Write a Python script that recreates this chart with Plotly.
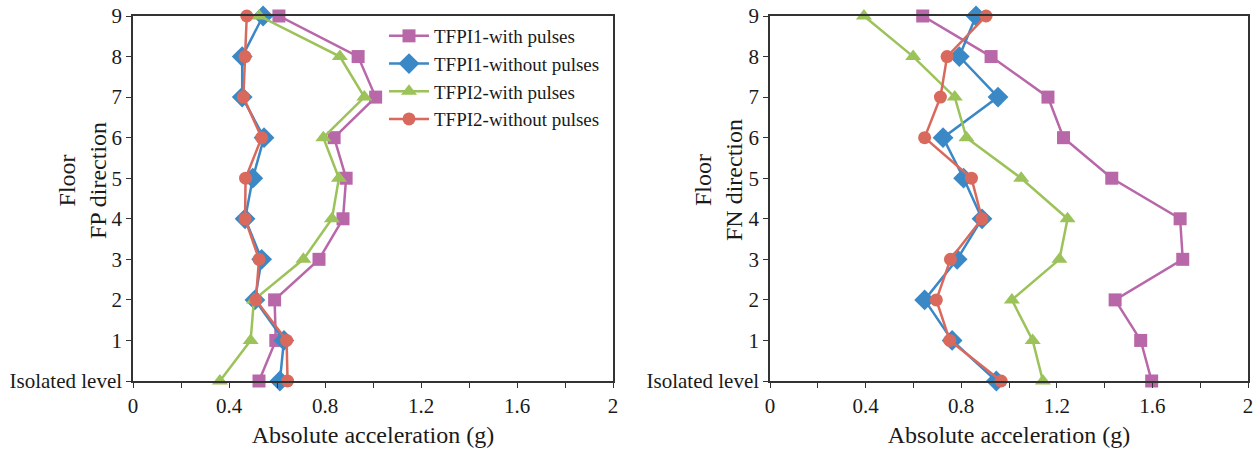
import plotly.graph_objects as go
from plotly.subplots import make_subplots

# Floor levels (0 = isolated level)
levels = [0, 1, 2, 3, 4, 5, 6, 7, 8, 9]
level_labels = ["Isolated level", "1", "2", "3", "4", "5", "6", "7", "8", "9"]

# Peak absolute floor accelerations (g), FP direction
fp_tfpi1_with = [0.525, 0.595, 0.59, 0.775, 0.875, 0.888, 0.838, 1.011, 0.938, 0.608]
fp_tfpi1_without = [0.612, 0.629, 0.508, 0.536, 0.467, 0.499, 0.546, 0.455, 0.455, 0.542]
fp_tfpi2_with = [0.362, 0.49, 0.504, 0.71, 0.829, 0.858, 0.793, 0.964, 0.862, 0.526]
fp_tfpi2_without = [0.644, 0.64, 0.512, 0.525, 0.467, 0.469, 0.536, 0.46, 0.467, 0.474]

# Peak absolute floor accelerations (g), FN direction
fn_tfpi1_with = [1.597, 1.551, 1.444, 1.727, 1.716, 1.43, 1.228, 1.163, 0.925, 0.639]
fn_tfpi1_without = [0.947, 0.762, 0.647, 0.783, 0.887, 0.81, 0.724, 0.954, 0.792, 0.862]
fn_tfpi2_with = [1.142, 1.099, 1.012, 1.211, 1.245, 1.051, 0.822, 0.773, 0.599, 0.393]
fn_tfpi2_without = [0.967, 0.752, 0.696, 0.755, 0.887, 0.843, 0.647, 0.713, 0.741, 0.904]

series_names = ["TFPI1-with pulses", "TFPI1-without pulses", "TFPI2-with pulses", "TFPI2-without pulses"]
colors = ["#B867A8", "#3B88C6", "#9CC25A", "#D9695C"]
symbols = ["square", "diamond", "triangle-up", "circle"]
msizes = [13, 16, 14, 13]

FONT = "Liberation Serif"
TEXT = "#1a1a1a"

fig = make_subplots(rows=1, cols=2)

fp_data = [fp_tfpi1_with, fp_tfpi1_without, fp_tfpi2_with, fp_tfpi2_without]
fn_data = [fn_tfpi1_with, fn_tfpi1_without, fn_tfpi2_with, fn_tfpi2_without]

for col, data in ((1, fp_data), (2, fn_data)):
    for i, vals in enumerate(data):
        fig.add_trace(
            go.Scatter(
                x=vals, y=levels, mode="lines+markers",
                name=series_names[i],
                line=dict(color=colors[i], width=2.5),
                marker=dict(symbol=symbols[i], size=msizes[i], color=colors[i]),
                cliponaxis=False,
                showlegend=(col == 1),
            ),
            row=1, col=col,
        )

axis_common = dict(
    showline=True, mirror=True, linecolor="#333333", linewidth=1.5,
    ticks="outside", ticklen=5, tickcolor="#333333", tickwidth=1.2,
    showgrid=False, zeroline=False, automargin=False,
    tickfont=dict(family=FONT, size=21, color=TEXT),
)

xaxis_cfg = dict(
    axis_common, range=[0, 2], tickmode="array",
    tickvals=[0, 0.4, 0.8, 1.2, 1.6, 2], ticktext=["0", "0.4", "0.8", "1.2", "1.6", "2"],
    minor=dict(tickmode="array", tickvals=[0.2, 0.6, 1.0, 1.4, 1.8], ticks="outside",
               ticklen=5, tickcolor="#333333", tickwidth=1.2),
    title=dict(text="Absolute acceleration (g)", font=dict(family=FONT, size=24, color=TEXT),
               standoff=9),
)
yaxis_cfg = dict(
    axis_common, range=[0, 9], tickmode="array", tickvals=levels, ticktext=level_labels,
)

fig.update_xaxes(xaxis_cfg)
fig.update_yaxes(yaxis_cfg)
fig.update_layout(
    xaxis=dict(domain=[133 / 1257, 613 / 1257]),
    xaxis2=dict(domain=[770 / 1257, 1248 / 1257]),
    yaxis=dict(domain=[1 - 381 / 450, 1 - 16 / 450]),
    yaxis2=dict(domain=[1 - 381 / 450, 1 - 16 / 450]),
)

# Rotated y-axis titles
for xpos, label in ((82 / 1257, "Floor<br>FP direction"), (718 / 1257, "Floor<br>FN direction")):
    fig.add_annotation(
        x=xpos, y=1 - 180 / 450, xref="paper", yref="paper",
        text=label, textangle=-90, showarrow=False,
        font=dict(family=FONT, size=24, color=TEXT),
        xanchor="center", yanchor="middle",
    )

fig.update_layout(
    width=1257, height=450,
    margin=dict(l=0, r=0, t=0, b=0),
    paper_bgcolor="white", plot_bgcolor="white",
    legend=dict(
        x=384 / 1257, y=1 - 17 / 450, xanchor="left", yanchor="top",
        bgcolor="rgba(0,0,0,0)", font=dict(family=FONT, size=19, color=TEXT),
        tracegroupgap=0, itemwidth=40,
    ),
)

fig.write_html("out.html")
